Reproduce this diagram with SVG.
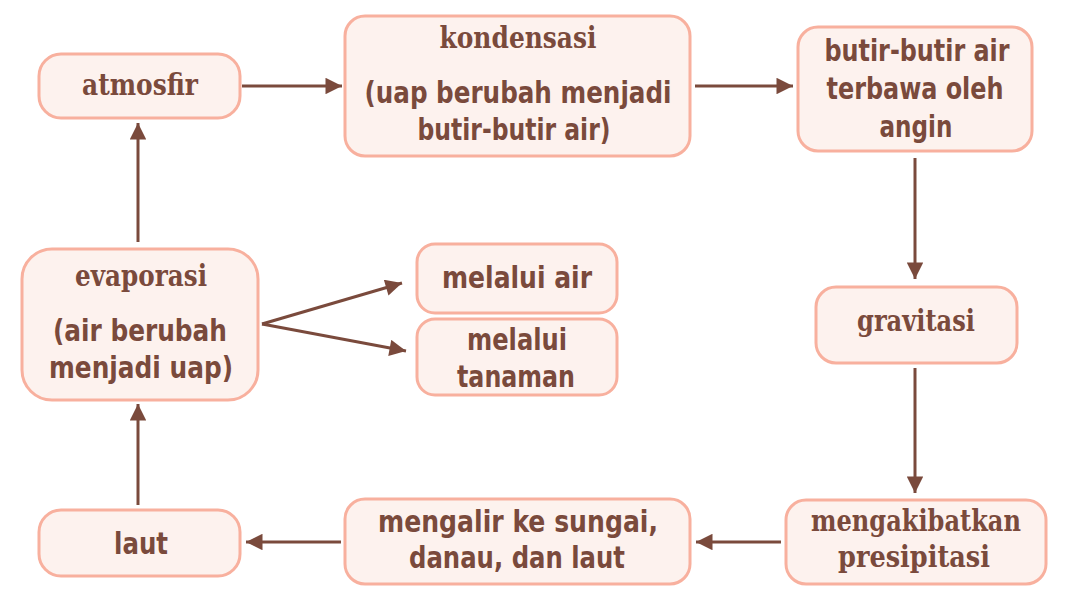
<svg xmlns="http://www.w3.org/2000/svg" width="1068" height="602" viewBox="0 0 1068 602">
<defs>
<style>
.box{fill:#fdf2ee;stroke:#f8b09e;stroke-width:3}
.t{fill:#7a4a3c;font-size:30px;font-weight:bold;text-anchor:middle}
.s{font-family:"DejaVu Serif","Liberation Serif",serif;font-size:29px}
.c{font-family:"DejaVu Sans Condensed","DejaVu Sans","Liberation Sans",sans-serif}
.ln{stroke:#7a4a3c;stroke-width:3;fill:none;marker-end:url(#ah)}
</style>
<marker id="ah" viewBox="0 0 10 10" refX="10" refY="5" markerWidth="6" markerHeight="5.5" markerUnits="strokeWidth" orient="auto">
<path d="M0,0 L10,5 L0,10 Z" fill="#7a4a3c"/>
</marker>
</defs>
<rect width="1068" height="602" fill="#ffffff"/>
<g id="connectors">
<line class="ln" x1="242" y1="86" x2="342" y2="86"/>
<line class="ln" x1="695" y1="86" x2="793" y2="86"/>
<line class="ln" x1="915" y1="158" x2="915" y2="279"/>
<line class="ln" x1="915" y1="368" x2="915" y2="493"/>
<line class="ln" x1="781" y1="542" x2="696" y2="542"/>
<line class="ln" x1="341" y1="542" x2="246" y2="542"/>
<line class="ln" x1="138" y1="505" x2="138" y2="404"/>
<line class="ln" x1="138" y1="242" x2="138" y2="123"/>
<line class="ln" x1="262" y1="324" x2="402" y2="283"/>
<line class="ln" x1="262" y1="324" x2="406" y2="351"/>
</g>
<g id="atmosfir"><rect class="box" x="39" y="54" width="201" height="64" rx="22"/><text class="t s" x="140" y="95" textLength="116" lengthAdjust="spacingAndGlyphs">atmosfir</text></g>
<g id="kondensasi"><rect class="box" x="345" y="16" width="345" height="140" rx="20"/>
<text class="t s" x="518" y="48" textLength="157" lengthAdjust="spacingAndGlyphs">kondensasi</text>
<text class="t c" x="518" y="103" textLength="307" lengthAdjust="spacingAndGlyphs">(uap berubah menjadi</text>
<text class="t c" x="514" y="140" textLength="193" lengthAdjust="spacingAndGlyphs">butir-butir air)</text></g>
<g id="butir"><rect class="box" x="798" y="27" width="234" height="124" rx="20"/>
<text class="t c" x="917" y="61" textLength="185" lengthAdjust="spacingAndGlyphs">butir-butir air</text>
<text class="t c" x="915" y="99" textLength="177" lengthAdjust="spacingAndGlyphs">terbawa oleh</text>
<text class="t c" x="916" y="137" textLength="73" lengthAdjust="spacingAndGlyphs">angin</text></g>
<g id="evaporasi"><rect class="box" x="22" y="249" width="236" height="151" rx="30"/>
<text class="t s" x="141" y="286" textLength="132" lengthAdjust="spacingAndGlyphs">evaporasi</text>
<text class="t c" x="140" y="341" textLength="174" lengthAdjust="spacingAndGlyphs">(air berubah</text>
<text class="t c" x="141" y="378" textLength="184" lengthAdjust="spacingAndGlyphs">menjadi uap)</text></g>
<g id="melalui-air"><rect class="box" x="417" y="244" width="200" height="69" rx="18"/>
<text class="t c" x="517" y="288" textLength="150" lengthAdjust="spacingAndGlyphs">melalui air</text></g>
<g id="melalui-tanaman"><rect class="box" x="417" y="319" width="200" height="76" rx="18"/>
<text class="t c" x="517" y="350" textLength="100" lengthAdjust="spacingAndGlyphs">melalui</text>
<text class="t c" x="516" y="387" textLength="118" lengthAdjust="spacingAndGlyphs">tanaman</text></g>
<g id="gravitasi"><rect class="box" x="816" y="287" width="201" height="76" rx="20"/>
<text class="t s" x="916" y="331" textLength="118" lengthAdjust="spacingAndGlyphs">gravitasi</text></g>
<g id="presipitasi"><rect class="box" x="786" y="500" width="260" height="84" rx="20"/>
<text class="t s" x="916" y="531" textLength="210" lengthAdjust="spacingAndGlyphs">mengakibatkan</text>
<text class="t s" x="914" y="567" textLength="152" lengthAdjust="spacingAndGlyphs">presipitasi</text></g>
<g id="mengalir"><rect class="box" x="345" y="499" width="345" height="85" rx="20"/>
<text class="t c" x="518" y="532" textLength="280" lengthAdjust="spacingAndGlyphs">mengalir ke sungai,</text>
<text class="t c" x="517" y="568" textLength="216" lengthAdjust="spacingAndGlyphs">danau, dan laut</text></g>
<g id="laut"><rect class="box" x="39" y="510" width="201" height="66" rx="22"/>
<text class="t c" x="141" y="554" textLength="54" lengthAdjust="spacingAndGlyphs">laut</text></g>
</svg>
